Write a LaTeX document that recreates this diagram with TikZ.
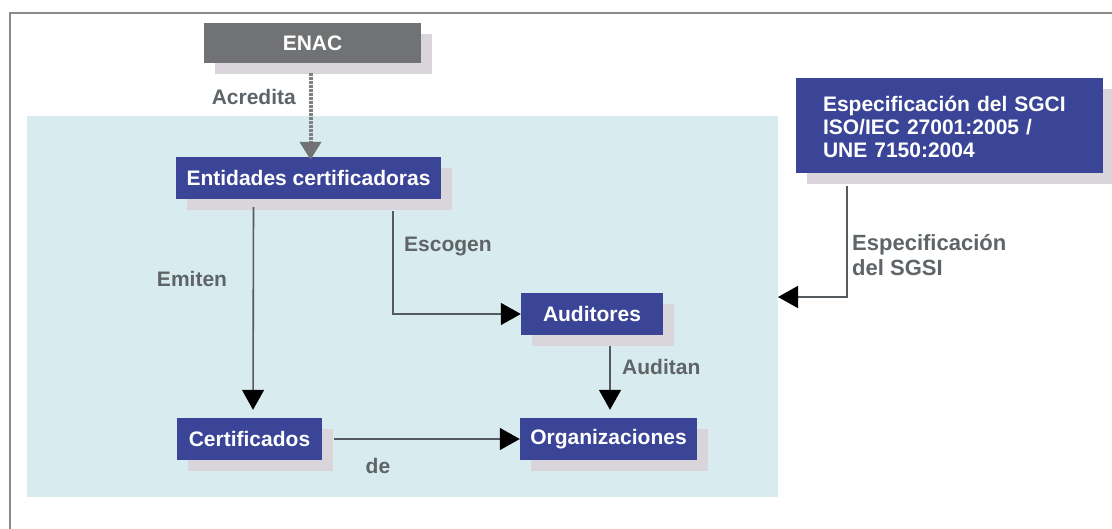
\documentclass[tikz,border=0pt]{standalone}
\usepackage{fontspec}
\setmainfont{Liberation Sans}
\usetikzlibrary{arrows.meta,shadows}
\definecolor{boxblue}{HTML}{3B4597}
\definecolor{enacgray}{HTML}{707273}
\definecolor{shadowgray}{HTML}{D9D5DB}
\definecolor{bgblue}{HTML}{D8EBEE}
\definecolor{framegray}{HTML}{8A8A8A}
\definecolor{labelgray}{HTML}{5E6468}
\definecolor{linegray}{HTML}{555A5E}
\tikzset{
  boxbase/.style={inner sep=0pt, text=white, minimum height=42pt,
    drop shadow={shadow xshift=11pt, shadow yshift=-11pt, fill=shadowgray, opacity=1}},
  bluebox/.style={boxbase, fill=boxblue},
  graybox/.style={boxbase, fill=enacgray},
  lbl/.style={text=labelgray, inner sep=0pt},
  conn/.style={draw=linegray, line width=1.6pt, -{Triangle[length=20pt,width=22pt,fill=black,color=black]}},
  accr/.style={draw=enacgray!90, line width=4pt, dash pattern=on 2.5pt off 1.5pt, -{Triangle[length=18pt,width=21pt,fill=enacgray,color=enacgray,sep=0pt]}}
}
\begin{document}
\begin{tikzpicture}[x=1pt,y=-1pt,font=\fontsize{21}{23}\selectfont\bfseries]
\useasboundingbox (0,0) rectangle (1112,529);
\fill[white] (0,0) rectangle (1112,529);
\draw[framegray, line width=2pt] (10,529) -- (10,13) -- (1112,13);
\fill[bgblue] (27,116) rectangle (778,497);
\coordinate (bgright) at (778,297);

\node[graybox, minimum width=217pt, minimum height=40pt] (enac) at (312.5,43) {ENAC};
\node[bluebox, minimum width=265pt] (ent) at (308.5,178) {Entidades certificadoras};
\node[bluebox, minimum width=142pt] (aud) at (592,314) {Auditores};
\node[bluebox, minimum width=145pt] (cert) at (249.5,439) {Certificados};
\node[bluebox, minimum width=177pt] (org) at (608.5,439) {Organizaciones};
\node[bluebox, minimum width=307pt, minimum height=95pt, text width=253pt,
      inner xsep=27pt, align=left] (sgci) at (949.5,125.5)
      {\raisebox{-4pt}[\height][\depth]{\begin{tabular}{@{}l@{}}Especificación del SGCI\\ISO/IEC 27001:2005 /\\UNE 7150:2004\end{tabular}}};

% connectors
\draw[accr] ([xshift=-2pt,yshift=-10pt]enac.south) -- ([xshift=-2pt,yshift=-3pt]enac.south |- ent.north);
\draw[conn] ([xshift=-55pt,yshift=-8pt]ent.south) -- ([xshift=3.5pt,yshift=8pt]cert.north);
\draw[conn] ([xshift=84.5pt,yshift=-12pt]ent.south) |- (aud.west);
\draw[conn] ([xshift=18pt,yshift=-11pt]aud.south) -- ([xshift=1.5pt,yshift=8pt]org.north);
\draw[conn] ([xshift=12pt]cert.east) -- (org.west);
\draw[conn] ([xshift=-102.5pt,yshift=-13pt]sgci.south) |- (bgright);

% labels
\node[lbl, anchor=east] (lacr) at (296,97) {Acredita};
\node[lbl] (lemi) at (192,279) {Emiten};
\node[lbl, anchor=west] (lesc) at (404,247) {Escogen};
\node[lbl, anchor=west] (laud) at (622,367) {Auditan};
\node[lbl] (lde) at (378,466) {de};
\node[lbl, anchor=west, align=left, font=\fontsize{22}{25}\selectfont\bfseries] (lspec) at (852,255) {Especificación\\del SGSI};
\end{tikzpicture}
\end{document}
